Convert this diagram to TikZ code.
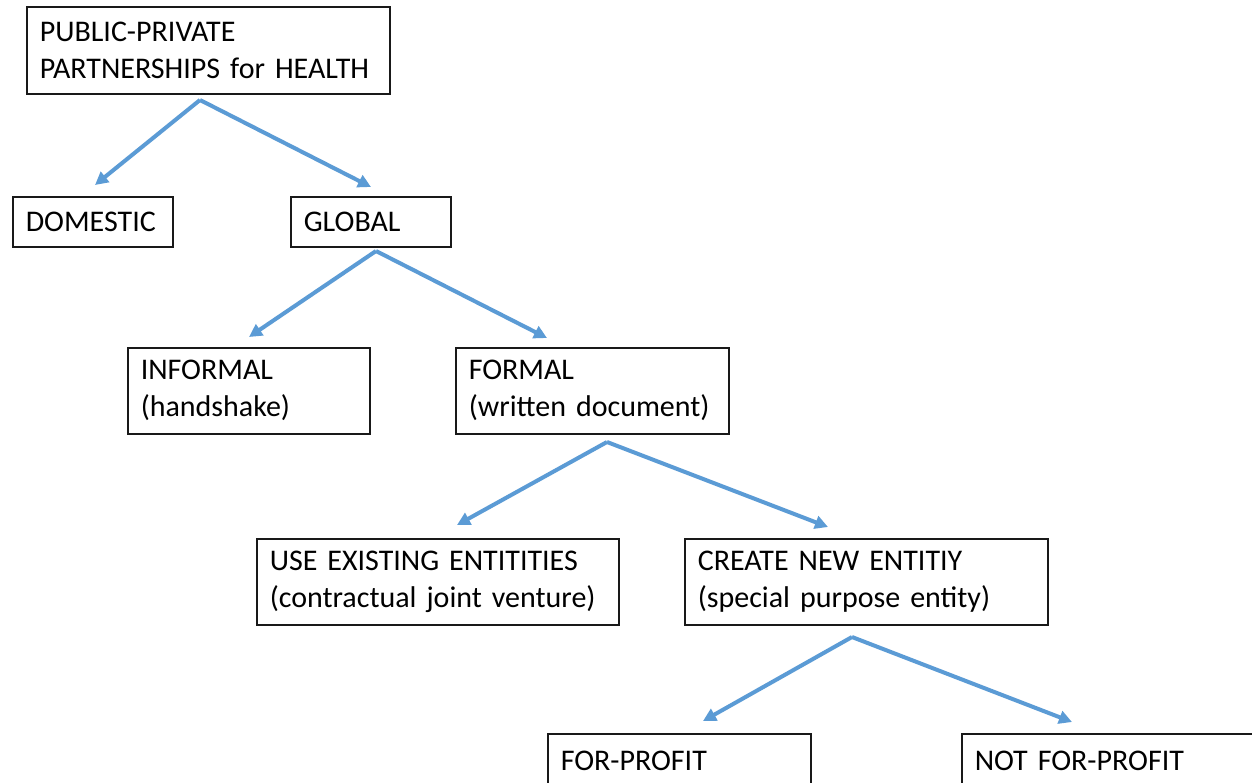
\documentclass[tikz,border=0pt]{standalone}
\usepackage{fontspec}
\setmainfont{Carlito}
\usetikzlibrary{arrows.meta}
\definecolor{arrblue}{RGB}{91,155,213}
\tikzset{
  pbox/.style={draw=black!90, line width=1.5pt, inner xsep=13pt, inner ysep=0pt, align=left,
    anchor=north west, font=\fontsize{30}{37}\selectfont},
  conn/.style={draw=arrblue, line width=4pt, -{Triangle[length=13pt,width=13pt]}}
}
\begin{document}
\begin{tikzpicture}[x=1pt,y=-1pt]
\clip (0,0) rectangle (1252,782);
\fill[white] (0,0) rectangle (1252,782);
% boxes
\node[pbox, text width=337pt, minimum height=87pt] (top) at (26,6) {PUBLIC-PRIVATE\\PARTNERSHIPS for HEALTH};
\node[pbox, text width=134pt, minimum height=50pt] (dom) at (12,196) {DOMESTIC};
\node[pbox, text width=134pt, minimum height=50pt] (glob) at (290,196) {GLOBAL};
\node[pbox, text width=216pt, minimum height=86pt] (inf) at (127,347) {INFORMAL\\(handshake)};
\node[pbox, text width=247pt, minimum height=86pt] (form) at (455,347) {FORMAL\\(written document)};
\node[pbox, text width=336pt, minimum height=86pt] (use) at (256,538) {USE EXISTING ENTITITIES\\(contractual joint venture)};
\node[pbox, text width=337pt, minimum height=86pt] (crt) at (684,538) {CREATE NEW ENTITIY\\(special purpose entity)};
\node[pbox, text width=237pt, minimum height=54pt] (fp) at (547,733) {FOR-PROFIT};
\node[pbox, text width=284pt, minimum height=54pt] (nfp) at (961,733) {NOT FOR-PROFIT};
% connector ends
\coordinate (s1) at (200,100);
\coordinate (e1) at (95,185);
\coordinate (e2) at (371,187);
\coordinate (s2) at (376,251);
\coordinate (e3) at (249,337);
\coordinate (e4) at (547,338);
\coordinate (s3) at (607,442);
\coordinate (e5) at (457,525);
\coordinate (e6) at (828,527);
\coordinate (s4) at (852,637);
\coordinate (e7) at (703,721);
\coordinate (e8) at (1072,722);
% connectors
\draw[conn] (s1) -- (e1);
\draw[conn] (s1) -- (e2);
\draw[conn] (s2) -- (e3);
\draw[conn] (s2) -- (e4);
\draw[conn] (s3) -- (e5);
\draw[conn] (s3) -- (e6);
\draw[conn] (s4) -- (e7);
\draw[conn] (s4) -- (e8);
\end{tikzpicture}
\end{document}
